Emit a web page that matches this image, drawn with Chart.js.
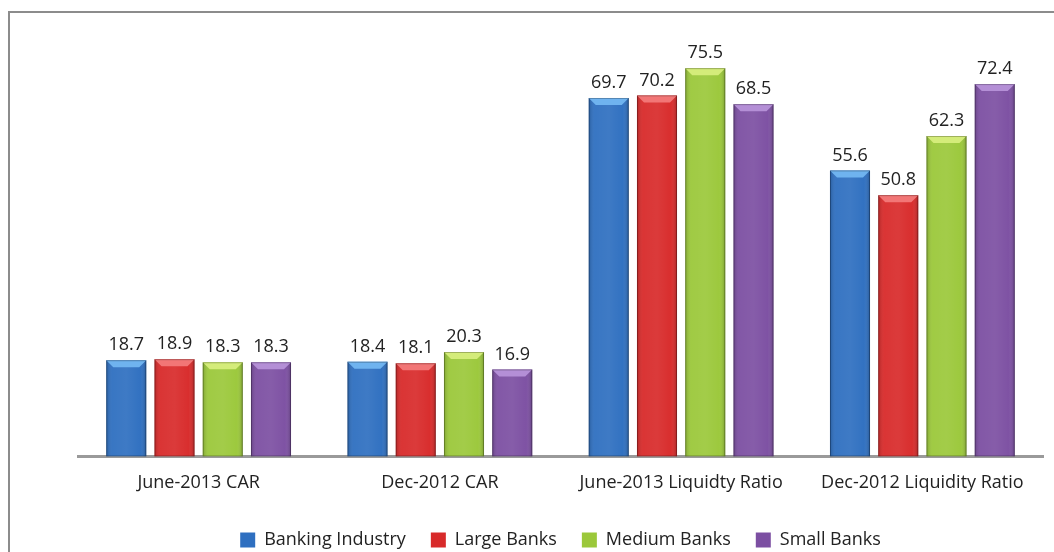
<!DOCTYPE html>
<html>
<head>
<meta charset="utf-8">
<script src="https://cdn.jsdelivr.net/npm/chart.js@4.4.0/dist/chart.umd.min.js"></script>
<style>
  html, body { margin: 0; padding: 0; background: #fff; overflow: hidden; }
  #frame { position: absolute; left: 8px; top: 11px; width: 1100px; height: 600px; border: 2px solid #8c8c8c; box-sizing: border-box; }
  #wrap { position: absolute; left: 0; top: 0; width: 1054px; height: 552px; }
</style>
</head>
<body>
<div id="frame"></div>
<div id="wrap"><canvas id="chart" width="1054" height="552"></canvas></div>
<script>
const categories = ['June-2013 CAR', 'Dec-2012 CAR', 'June-2013 Liquidty Ratio', 'Dec-2012 Liquidity Ratio'];
const bankingIndustry = [18.7, 18.4, 69.7, 55.6];
const largeBanks = [18.9, 18.1, 70.2, 50.8];
const mediumBanks = [18.3, 20.3, 75.5, 62.3];
const smallBanks = [18.3, 16.9, 68.5, 72.4];

const seriesColors = ['#2e6fc0', '#d82a2a', '#9bc83a', '#7c4fa2'];
const lightColors = ['#6fb3ef', '#f27676', '#d4ec7a', '#b48fd6'];
const fontFamily = '"Open Sans", "Noto Sans", sans-serif';

// bevel look + value labels on top of every bar
const barDecor = {
    id: 'barDecor',
    afterDatasetsDraw(chart) {
        const ctx = chart.ctx;
        chart.data.datasets.forEach((ds, di) => {
            const meta = chart.getDatasetMeta(di);
            meta.data.forEach((bar, i) => {
                const left = bar.x - bar.width / 2, right = bar.x + bar.width / 2;
                const top = bar.y, bottom = bar.base;
                const bev = 7;
                ctx.save();
                // side shading
                const g = ctx.createLinearGradient(left, 0, right, 0);
                g.addColorStop(0, 'rgba(0,0,0,0.18)');
                g.addColorStop(0.15, 'rgba(255,255,255,0.05)');
                g.addColorStop(0.5, 'rgba(255,255,255,0.08)');
                g.addColorStop(0.85, 'rgba(255,255,255,0.02)');
                g.addColorStop(1, 'rgba(0,0,0,0.22)');
                ctx.fillStyle = g;
                ctx.fillRect(left, top, bar.width, bottom - top);
                // top bevel
                ctx.beginPath();
                ctx.moveTo(left, top);
                ctx.lineTo(right, top);
                ctx.lineTo(right - bev, top + bev);
                ctx.lineTo(left + bev, top + bev);
                ctx.closePath();
                ctx.fillStyle = lightColors[di];
                ctx.fill();
                // outline
                ctx.strokeStyle = 'rgba(0,0,0,0.25)';
                ctx.lineWidth = 1;
                ctx.strokeRect(left + 0.5, top + 0.5, bar.width - 1, bottom - top - 1);
                ctx.restore();

                ctx.save();
                ctx.fillStyle = '#222';
                ctx.font = '18px ' + fontFamily;
                ctx.textAlign = 'center';
                ctx.textBaseline = 'bottom';
                ctx.fillText(ds.data[i].toFixed(1), bar.x, top - 6);
                ctx.restore();
            });
        });
    }
};

new Chart(document.getElementById('chart').getContext('2d'), {
    type: 'bar',
    data: {
        labels: categories,
        datasets: [
            { label: 'Banking Industry', data: bankingIndustry, backgroundColor: seriesColors[0] },
            { label: 'Large Banks', data: largeBanks, backgroundColor: seriesColors[1] },
            { label: 'Medium Banks', data: mediumBanks, backgroundColor: seriesColors[2] },
            { label: 'Small Banks', data: smallBanks, backgroundColor: seriesColors[3] }
        ]
    },
    plugins: [barDecor],
    options: {
        responsive: false,
        animation: false,
        datasets: { bar: { categoryPercentage: 0.8, barPercentage: 0.83 } },
        layout: { padding: { left: 78, right: 11, top: 45, bottom: -7 } },
        plugins: {
            tooltip: { enabled: false },
            legend: {
                position: 'bottom',
                labels: {
                    boxWidth: 15,
                    boxHeight: 15,
                    padding: 25,
                    color: '#222',
                    font: { size: 18, family: fontFamily }
                }
            }
        },
        scales: {
            x: {
                grid: { display: false, drawTicks: false },
                border: { display: true, color: '#9a9a9a', width: 3 },
                ticks: { color: '#222', padding: 16, font: { size: 18, family: fontFamily } },
                afterFit(scale) { scale.height -= 4; }
            },
            y: {
                display: false,
                min: 0,
                max: 80
            }
        }
    }
});
</script>
</body>
</html>
